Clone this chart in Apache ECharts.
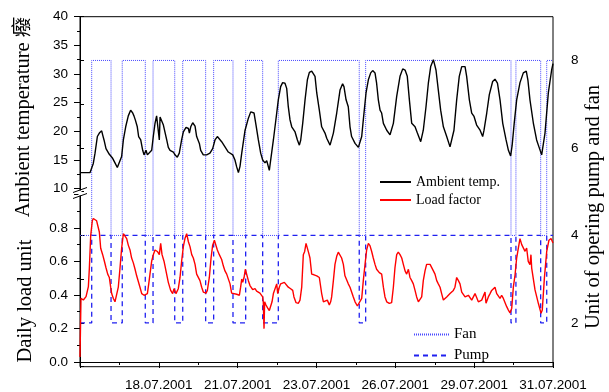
<!DOCTYPE html>
<html>
<head>
<meta charset="utf-8">
<script src="https://cdn.jsdelivr.net/npm/echarts@6/dist/echarts.min.js"></script>
<style>
  html, body { margin: 0; padding: 0; background: #fff; }
  #main { width: 609px; height: 392px; }
</style>
</head>
<body>
<div id="main"></div>
<script>
// hours since start of record (15.07.2001 evening), x axis runs 0..384 h
const dateLabels = ['', '18.07.2001', '21.07.2001', '23.07.2001', '26.07.2001', '29.07.2001', '31.07.2001'];

// ambient temperature (deg C)
const tempHours = [0, 8.1, 9.5, 10.8, 12.2, 14.1, 15.7, 17.6, 18.4, 19.5, 21.1, 22.2, 23.8, 24.9, 26.5, 28.4, 30.3, 31.9, 33.8, 35.2,
  37.1, 39.2, 41.1, 42.8, 43.8, 44.9, 46.5, 47.6, 49.3, 50.9, 52.0, 53.6, 54.7, 56.3, 58.2, 59.5, 60.9, 62.2, 63.3, 64.4,
  65.0, 66.3, 67.7, 69.0, 70.4, 71.7, 73.1, 75.8, 77.1, 79.0, 80.6, 82.5, 83.9, 86.1, 88.0, 88.8, 89.9, 91.5, 93.4, 94.7,
  96.9, 98.0, 100.1, 102.8, 105.5, 107.7, 109.6, 111.5, 113.1, 115.0, 117.7, 120.4, 124.0, 125.8, 127.2, 128.6, 129.9, 131.3, 134.0, 136.7,
  138.6, 140.2, 141.3, 142.9, 144.8, 146.7, 148.3, 150.2, 151.6, 153.7, 154.8, 157.0, 159.7, 161.0, 162.9, 164.5, 166.4, 167.8, 169.1, 170.5,
  171.9, 173.2, 174.6, 176.5, 178.1, 179.2, 180.8, 182.7, 184.6, 186.2, 188.1, 189.4, 190.8, 192.2, 194.3, 196.2, 198.9, 200.3, 203.0, 205.7,
  208.4, 211.1, 213.2, 214.3, 216.0, 217.8, 219.2, 220.5, 223.3, 226.0, 226.8, 228.7, 230.0, 232.2, 234.1, 236.0, 237.6, 239.5, 240.8, 242.2,
  243.6, 244.9, 246.3, 249.0, 251.7, 254.4, 257.1, 259.8, 262.0, 263.9, 265.7, 267.4, 269.3, 272.0, 273.9, 276.6, 278.7, 280.9, 282.8, 284.7,
  286.9, 289.0, 290.9, 292.8, 295.0, 297.7, 300.4, 301.7, 303.6, 305.8, 307.9, 309.9, 311.2, 312.6, 313.9, 316.1, 318.0, 319.9, 322.0, 324.8,
  326.9, 328.0, 330.2, 332.3, 335.0, 336.9, 338.9, 341.0, 343.2, 345.9, 347.8, 349.6, 350.8, 352.5, 354.5, 357.2, 359.9, 362.3, 363.6, 365.3,
  368.0, 370.7, 372.1, 374.8, 377.5, 380.2, 382.9, 384];
const tempValues = [12.8, 12.8, 12.9, 14.4, 16.2, 19.1, 19.7, 20.1, 19.4, 18.5, 17.0, 17.0, 16.0, 15.7, 15.3, 14.5, 13.7, 13.9, 15.6, 18.5,
  20.8, 22.7, 23.7, 23.2, 22.7, 22.0, 20.8, 19.1, 18.5, 16.7, 15.9, 16.7, 15.9, 16.2, 16.7, 19.1, 21.4, 22.7, 23.0, 18.5,
  22.5, 22.6, 21.1, 20.8, 18.5, 17.2, 16.7, 16.4, 15.9, 15.5, 16.2, 18.5, 19.9, 20.7, 20.5, 19.7, 20.8, 21.5, 20.9, 19.1,
  17.9, 16.7, 15.9, 15.9, 16.2, 17.0, 18.5, 19.1, 19.0, 18.2, 17.3, 16.4, 15.9, 15.0, 13.8, 12.8, 13.9, 16.2, 20.2, 22.3,
  23.4, 23.7, 23.2, 21.1, 18.5, 16.2, 15.0, 14.5, 14.9, 13.2, 15.0, 18.5, 23.2, 25.5, 27.8, 28.5, 28.4, 27.5, 24.3, 22.0,
  20.8, 20.5, 19.9, 18.5, 17.6, 18.5, 21.4, 25.5, 29.0, 30.3, 30.5, 30.6, 29.6, 26.7, 23.7, 20.8, 19.7, 18.8, 17.6, 19.7,
  23.2, 27.2, 28.3, 27.8, 25.5, 24.3, 20.8, 19.1, 17.9, 17.2, 17.0, 19.1, 22.0, 26.7, 29.0, 30.2, 30.6, 30.2, 28.4, 25.5,
  23.7, 23.2, 21.4, 20.2, 19.4, 21.4, 26.1, 29.6, 30.9, 30.7, 29.6, 25.5, 21.4, 20.8, 19.7, 18.2, 20.2, 24.3, 28.4, 31.3,
  32.5, 30.7, 27.2, 23.7, 20.8, 19.1, 17.3, 17.0, 20.2, 25.5, 29.6, 31.3, 31.0, 31.3, 29.6, 25.5, 23.2, 22.6, 21.1, 20.2,
  19.1, 20.2, 23.2, 26.4, 28.7, 29.1, 28.4, 25.5, 21.4, 18.5, 16.7, 15.7, 17.5, 21.4, 25.5, 28.5, 30.2, 30.5, 29.0, 25.5,
  21.5, 18.5, 17.6, 15.9, 19.7, 26.7, 30.7, 31.8];

// load factor (daily load unit)
const loadHours = [0, 0.8, 2.7, 4.9, 6.0, 6.8, 7.6, 8.7, 10.0, 10.8, 12.2, 13.5, 14.9, 15.7, 16.8, 18.4, 19.8, 21.1, 22.5, 23.8,
  24.9, 25.7, 27.1, 28.4, 29.8, 31.1, 32.5, 33.8, 35.2, 36.5, 37.9, 39.2, 40.6, 41.9, 43.3, 44.7, 46.0, 47.4, 48.7, 50.1,
  52.0, 53.6, 54.7, 55.8, 56.8, 58.2, 59.5, 60.9, 62.8, 64.4, 65.5, 66.6, 68.2, 69.8, 71.7, 73.6, 75.2, 76.3, 77.9, 79.8,
  81.2, 82.5, 83.9, 85.2, 86.6, 88.0, 89.3, 90.7, 92.0, 93.4, 94.7, 96.1, 97.4, 98.8, 100.1, 102.3, 103.4, 105.0, 106.4, 107.7,
  109.1, 110.4, 111.5, 113.1, 115.0, 116.4, 117.7, 119.1, 120.4, 121.8, 123.1, 124.5, 127.2, 129.4, 130.4, 131.3, 132.1, 133.2, 134.2, 135.3,
  136.7, 138.0, 140.2, 142.1, 143.4, 144.8, 146.1, 147.5, 148.3, 148.8, 149.4, 149.9, 151.0, 152.4, 153.7, 154.8, 155.9, 157.0, 158.3, 159.7,
  160.5, 161.8, 162.9, 164.5, 165.9, 167.3, 169.1, 171.0, 172.7, 173.7, 175.4, 177.3, 178.6, 180.0, 181.3, 182.4, 183.5, 184.6, 185.7, 186.7,
  188.1, 190.0, 192.2, 194.3, 196.2, 197.6, 198.9, 200.8, 202.4, 203.5, 204.3, 205.7, 207.0, 208.4, 209.7, 211.1, 212.4, 213.8, 215.1, 216.5,
  217.8, 219.2, 220.5, 221.9, 223.3, 225.2, 226.8, 228.7, 230.0, 231.4, 232.7, 234.1, 235.4, 236.8, 238.1, 239.5, 240.8, 243.0, 244.9, 246.3,
  247.6, 249.0, 251.1, 253.0, 254.4, 255.7, 257.1, 258.4, 259.8, 261.2, 262.5, 263.9, 265.2, 266.6, 267.9, 269.3, 270.6, 272.0, 273.3, 274.7,
  276.0, 277.4, 278.7, 280.1, 281.4, 282.8, 284.2, 285.5, 286.9, 288.2, 289.6, 290.9, 292.3, 293.6, 295.0, 296.3, 297.7, 299.0, 300.4, 301.7,
  303.1, 304.4, 305.8, 307.2, 308.5, 309.9, 311.2, 312.6, 313.9, 315.3, 316.6, 318.0, 319.3, 320.7, 322.0, 323.4, 324.7, 326.1, 327.5, 328.8,
  329.6, 331.5, 332.9, 334.2, 335.6, 336.9, 338.3, 339.6, 341.0, 342.3, 343.7, 345.0, 346.4, 347.7, 349.1, 350.5, 351.8, 353.2, 354.5, 355.9,
  357.2, 358.6, 359.9, 361.3, 362.6, 363.9, 365.3, 366.1, 366.7, 369.4, 372.1, 374.3, 375.3, 377.0, 378.9, 380.7, 382.4, 384];
const loadValues = [0.03, 0.38, 0.37, 0.39, 0.39, 0.45, 0.56, 0.755, 0.842, 0.856, 0.848, 0.842, 0.837, 0.775, 0.678, 0.640, 0.601, 0.562, 0.524, 0.504,
  0.446, 0.408, 0.379, 0.359, 0.369, 0.446, 0.562, 0.678, 0.765, 0.755, 0.736, 0.697, 0.668, 0.620, 0.591, 0.553, 0.514, 0.504, 0.446, 0.408,
  0.398, 0.388, 0.408, 0.466, 0.524, 0.601, 0.640, 0.668, 0.659, 0.640, 0.707, 0.640, 0.601, 0.543, 0.475, 0.427, 0.408, 0.437, 0.408, 0.437,
  0.504, 0.601, 0.688, 0.736, 0.765, 0.717, 0.688, 0.640, 0.620, 0.582, 0.524, 0.514, 0.485, 0.446, 0.417, 0.411, 0.427, 0.504, 0.620, 0.697,
  0.726, 0.717, 0.668, 0.640, 0.611, 0.572, 0.543, 0.524, 0.514, 0.466, 0.411, 0.408, 0.404, 0.398, 0.446, 0.495, 0.475, 0.504, 0.553, 0.547,
  0.485, 0.456, 0.431, 0.437, 0.423, 0.431, 0.411, 0.408, 0.388, 0.359, 0.199, 0.359, 0.340, 0.321, 0.307, 0.311, 0.359, 0.408, 0.417, 0.466,
  0.408, 0.446, 0.466, 0.466, 0.475, 0.466, 0.446, 0.437, 0.427, 0.388, 0.354, 0.350, 0.369, 0.446, 0.640, 0.659, 0.707, 0.701, 0.649, 0.620,
  0.524, 0.520, 0.514, 0.504, 0.408, 0.359, 0.350, 0.369, 0.340, 0.359, 0.388, 0.485, 0.582, 0.630, 0.655, 0.649, 0.620, 0.582, 0.514, 0.524,
  0.466, 0.446, 0.446, 0.388, 0.359, 0.334, 0.340, 0.379, 0.485, 0.582, 0.668, 0.707, 0.694, 0.659, 0.620, 0.582, 0.553, 0.533, 0.524, 0.446,
  0.388, 0.359, 0.350, 0.354, 0.446, 0.562, 0.640, 0.655, 0.640, 0.620, 0.582, 0.543, 0.524, 0.553, 0.504, 0.485, 0.466, 0.427, 0.388, 0.359,
  0.350, 0.388, 0.485, 0.543, 0.582, 0.591, 0.582, 0.572, 0.543, 0.524, 0.485, 0.466, 0.446, 0.408, 0.369, 0.379, 0.388, 0.379, 0.408, 0.398,
  0.427, 0.446, 0.504, 0.485, 0.466, 0.417, 0.408, 0.388, 0.379, 0.398, 0.388, 0.369, 0.379, 0.408, 0.398, 0.359, 0.350, 0.369, 0.359, 0.417,
  0.350, 0.388, 0.408, 0.427, 0.427, 0.446, 0.408, 0.398, 0.379, 0.398, 0.379, 0.369, 0.330, 0.311, 0.292, 0.321, 0.446, 0.520, 0.620, 0.680,
  0.736, 0.700, 0.710, 0.660, 0.680, 0.600, 0.580, 0.640, 0.560, 0.430, 0.350, 0.290, 0.310, 0.500, 0.660, 0.726, 0.736, 0.710];

// operating units: each value holds from its hour until the next switch
const switchHours = [0, 9.5, 25.2, 34.3, 53.0, 59.3, 76.9, 83.4, 102.0, 108.5, 124.2, 134.5, 148.3, 161.0, 226.7, 231.9, 349.9, 353.9, 374.0, 378.9, 384];
const fanUnits  = [4, 8, 4, 8, 4, 8, 4, 8, 4, 8, 4, 8, 4, 8, 4, 8, 4, 8, 4, 8, 8];
const pumpUnits = [2, 4, 2, 4, 2, 4, 2, 4, 2, 4, 2, 4, 2, 4, 2, 4, 2, 4, 2, 4, 4];

const pairs = (xs, ys) => xs.map((x, i) => [x, ys[i]]);

const labelFont = { fontFamily: 'Liberation Sans, Arial, sans-serif', fontSize: 13.5, color: '#000' };
const serif = 'Liberation Serif, Times New Roman, Noto Sans CJK SC, serif';
const black = { color: '#000', width: 1 };

function xAxisOf(grid, visible) {
  return {
    type: 'value', gridIndex: grid, min: 0, max: 384, interval: 64,
    show: visible,
    axisLine: { lineStyle: black },
    axisTick: { length: 6, lineStyle: black },
    minorTick: { show: true, splitNumber: 2, length: 3, lineStyle: black },
    splitLine: { show: false },
    axisLabel: Object.assign({ margin: 16, showMaxLabel: true, formatter: v => dateLabels[Math.round(v / 64)] || '' }, labelFont)
  };
}

let myChart = echarts.init(document.getElementById('main'));
let option = {
  animation: false,
  backgroundColor: '#fff',
  grid: [
    { left: 80, right: 56, top: 16.7, height: 172 },
    { left: 80, right: 56, top: 194.3, height: 172.4 },
    { left: 80, right: 56, top: 16.7, height: 350, show: true, borderColor: '#000', borderWidth: 1 }
  ],
  xAxis: [xAxisOf(0, false), xAxisOf(1, true), xAxisOf(2, false)],
  yAxis: [
    {
      type: 'value', gridIndex: 0, min: 10, max: 40, interval: 5,
      axisLine: { show: true, lineStyle: black },
      axisTick: { show: true, length: 6, lineStyle: black },
      minorTick: { show: true, splitNumber: 2, length: 3, lineStyle: black },
      splitLine: { show: false },
      axisLabel: Object.assign({ margin: 12 }, labelFont)
    },
    {
      type: 'value', gridIndex: 1, min: 0, max: 1, interval: 0.2,
      axisLine: { show: true, lineStyle: black },
      axisTick: { show: true, length: 6, lineStyle: black },
      minorTick: { show: true, splitNumber: 2, length: 3, lineStyle: black },
      splitLine: { show: false },
      axisLabel: Object.assign({ margin: 12, formatter: v => v > 0.95 ? '' : v.toFixed(1) }, labelFont)
    },
    {
      type: 'value', gridIndex: 2, position: 'right', min: 1, max: 9, interval: 1,
      axisLine: { show: true, lineStyle: black },
      axisTick: { show: true, length: 4, lineStyle: black },
      splitLine: { show: false },
      axisLabel: Object.assign({ margin: 18, formatter: v => v % 2 === 0 ? String(v) : '' }, labelFont)
    }
  ],
  legend: [
    {
      data: ['Ambient temp.', 'Load factor'], orient: 'vertical', left: 379, top: 175, padding: 0,
      itemWidth: 31, itemHeight: 14, itemGap: 4, itemStyle: { opacity: 0 },
      textStyle: { fontFamily: serif, fontSize: 14, color: '#000', lineHeight: 14 }
    },
    {
      data: ['Fan', 'Pump'], orient: 'vertical', left: 413, top: 327, padding: 0,
      itemWidth: 35, itemHeight: 15, itemGap: 6, itemStyle: { opacity: 0 },
      textStyle: { fontFamily: serif, fontSize: 15, color: '#000', lineHeight: 15 }
    }
  ],
  series: [
    {
      name: 'Fan', type: 'line', xAxisIndex: 2, yAxisIndex: 2, step: 'end', symbol: 'none',
      data: pairs(switchHours, fanUnits),
      lineStyle: { color: '#4a4aff', width: 1, type: [1, 1] }, itemStyle: { color: '#4a4aff' }
    },
    {
      name: 'Pump', type: 'line', xAxisIndex: 2, yAxisIndex: 2, step: 'end', symbol: 'none',
      data: pairs(switchHours, pumpUnits),
      lineStyle: { color: '#2020f0', width: 1.3, type: [5, 4] }, itemStyle: { color: '#2020f0' }
    },
    {
      name: 'Ambient temp.', type: 'line', xAxisIndex: 0, yAxisIndex: 0, symbol: 'none',
      data: pairs(tempHours, tempValues),
      lineStyle: { color: '#000', width: 1.4 }, itemStyle: { color: '#000' }
    },
    {
      name: 'Load factor', type: 'line', xAxisIndex: 1, yAxisIndex: 1, symbol: 'none',
      data: pairs(loadHours, loadValues),
      lineStyle: { color: '#ff0000', width: 1.4 }, itemStyle: { color: '#ff0000' }
    }
  ],
  graphic: [
    // axis break on the left
    { type: 'rect', shape: { x: 78.5, y: 190.5, width: 3, height: 5 }, style: { fill: '#fff' }, z: 100 },
    { type: 'line', shape: { x1: 73, y1: 192.5, x2: 87, y2: 187.5 }, style: { stroke: '#000', lineWidth: 1 }, z: 101 },
    { type: 'line', shape: { x1: 73, y1: 198.5, x2: 87, y2: 193.5 }, style: { stroke: '#000', lineWidth: 1 }, z: 101 },
    {
      type: 'text', x: 24, y: 117, rotation: Math.PI / 2,
      style: { text: 'Ambient temperature 癈', font: '20.5px ' + serif, fill: '#000', align: 'center', verticalAlign: 'middle' }
    },
    {
      type: 'text', x: 26, y: 301, rotation: Math.PI / 2,
      style: { text: 'Daily load unit', font: '20.5px ' + serif, fill: '#000', align: 'center', verticalAlign: 'middle' }
    },
    {
      type: 'text', x: 594, y: 207, rotation: Math.PI / 2,
      style: { text: 'Unit of opering pump and fan', font: '20.5px ' + serif, fill: '#000', align: 'center', verticalAlign: 'middle' }
    }
  ]
};
myChart.clear();
myChart.setOption(option);
</script>
</body>
</html>
